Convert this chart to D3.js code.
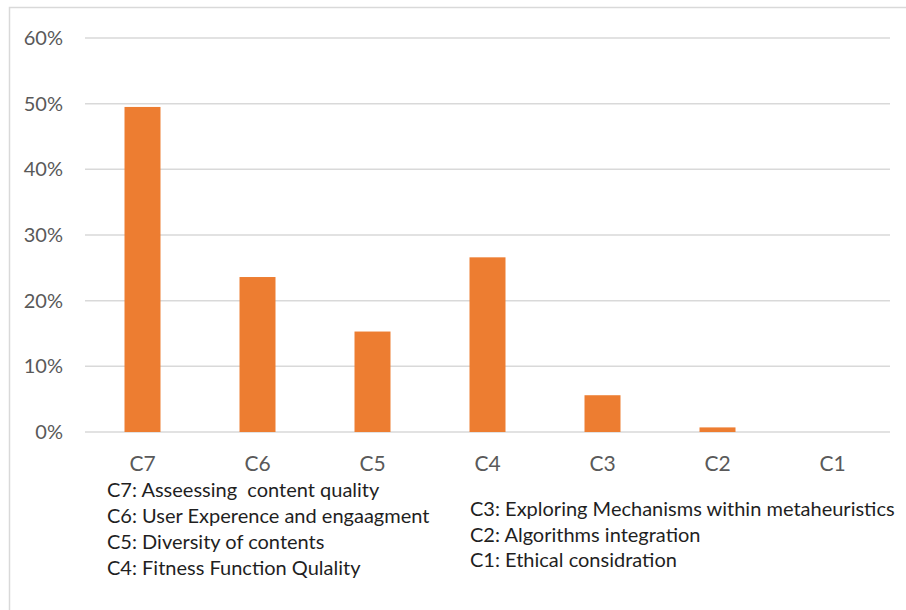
<!DOCTYPE html>
<html>
<head>
<meta charset="utf-8">
<script src="https://cdn.jsdelivr.net/npm/d3@7"></script>
<style>
  html, body { margin: 0; padding: 0; background: #fff; }
  svg { display: block; }
  text { font-family: Lato, "Open Sans", sans-serif; }
</style>
</head>
<body>
<svg id="chart" width="906" height="610"></svg>
<script>
// Share of studies per research category
const categories = ["C7", "C6", "C5", "C4", "C3", "C2", "C1"];
const shares = [0.495, 0.236, 0.153, 0.266, 0.056, 0.007, 0.0];
const yTicks = [0, 0.1, 0.2, 0.3, 0.4, 0.5, 0.6];

// Category descriptions, listed in two columns under the axis
const legendLeft = [
  "C7: Asseessing  content quality",
  "C6: User Experence and engaagment",
  "C5: Diversity of contents",
  "C4: Fitness Function Qulality"
];
const legendRight = [
  "C3: Exploring Mechanisms within metaheuristics",
  "C2: Algorithms integration",
  "C1: Ethical considration"
];

const svg = d3.select("#chart");

// outer frame (top and left edges visible)
svg.append("path")
  .attr("d", "M9.5,610 V7.5 H906")
  .attr("fill", "none")
  .attr("stroke", "#d9d9d9")
  .attr("stroke-width", 1.5);

const x = d3.scaleBand()
  .domain(categories)
  .range([85, 890])
  .paddingInner(0.687)
  .paddingOuter(0.3435);

const y = d3.scaleLinear()
  .domain([0, 0.6])
  .range([432, 38]);

// horizontal gridlines
svg.append("g")
  .selectAll("line")
  .data(yTicks)
  .join("line")
  .attr("x1", 85)
  .attr("x2", 890)
  .attr("y1", d => y(d))
  .attr("y2", d => y(d))
  .attr("stroke", "#d9d9d9")
  .attr("stroke-width", 1.5);

// y axis labels
const yAxis = d3.axisLeft(y)
  .tickValues(yTicks)
  .tickFormat(d3.format(".0%"))
  .tickSize(0)
  .tickPadding(0);
const yg = svg.append("g")
  .attr("transform", "translate(63,0)")
  .call(yAxis);
yg.select(".domain").remove();
yg.selectAll("text")
  .attr("fill", "#595959")
  .style("font-size", "20px")
  .style("font-family", "Lato, sans-serif");

// bars
svg.append("g")
  .selectAll("rect")
  .data(categories.map((c, i) => ({ c, v: shares[i] })))
  .join("rect")
  .attr("x", d => x(d.c))
  .attr("width", x.bandwidth())
  .attr("y", d => y(d.v))
  .attr("height", d => y(0) - y(d.v))
  .attr("fill", "#ed7d31");

// x axis labels
const xAxis = d3.axisBottom(x).tickSize(0).tickPadding(0);
const xg = svg.append("g")
  .attr("transform", "translate(0,456)")
  .call(xAxis);
xg.select(".domain").remove();
xg.selectAll("text")
  .attr("fill", "#595959")
  .attr("dy", "0.71em")
  .style("font-size", "21px")
  .style("font-family", "Lato, sans-serif");

// category descriptions
const leg = svg.append("g")
  .attr("fill", "#1f1f1f")
  .style("font-size", "20px");
leg.selectAll("text.l")
  .data(legendLeft)
  .join("text")
  .attr("class", "l")
  .attr("x", 107)
  .attr("y", (d, i) => 496.5 + i * 26)
  .attr("xml:space", "preserve")
  .text(d => d);
leg.selectAll("text.r")
  .data(legendRight)
  .join("text")
  .attr("class", "r")
  .attr("x", 470)
  .attr("y", (d, i) => 516 + i * 25.5)
  .text(d => d);
</script>
</body>
</html>
